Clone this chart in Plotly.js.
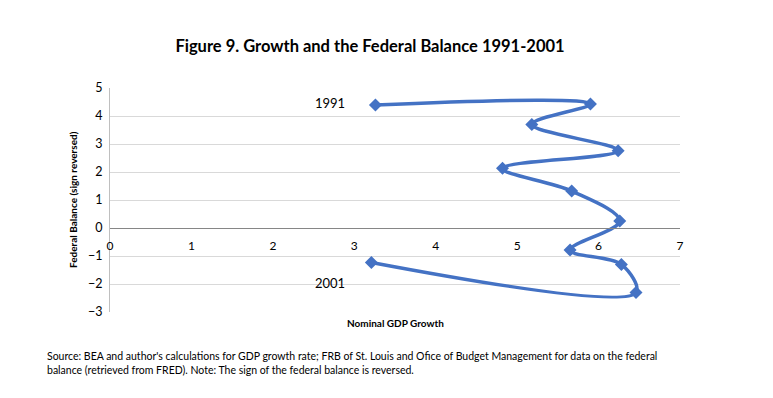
<!DOCTYPE html>
<html><head><meta charset="utf-8">
<script src="https://cdn.plot.ly/plotly-3.0.1.min.js"></script>
<style>html,body{margin:0;padding:0;background:#fff}#c{width:773px;height:398px}</style>
</head><body><div id="c"></div>
<script>
const years = ["1991","1992","1993","1994","1995","1996","1997","1998","1999","2000","2001"];
const gdpGrowth = [3.26, 5.90, 5.18, 6.24, 4.82, 5.67, 6.26, 5.65, 6.28, 6.46, 3.21];
const fedBalance = [4.39, 4.43, 3.70, 2.76, 2.13, 1.32, 0.25, -0.79, -1.30, -2.30, -1.23];
const xTicks = [0,1,2,3,4,5,6,7];
const yTicks = [-3,-2,-1,0,1,2,3,4,5];
const F = "Lato, 'Open Sans', sans-serif";
const trace = {
  x: gdpGrowth, y: fedBalance, text: years, mode: 'lines+markers', type: 'scatter',
  line: {color: '#4472C4', width: 3.5, shape: 'spline', smoothing: 1},
  marker: {symbol: 'diamond', size: 10, color: '#4472C4'},
  hoverinfo: 'x+y+text'
};
const layout = {
  width: 773, height: 398, paper_bgcolor: '#fff', plot_bgcolor: '#fff',
  margin: {l: 110, r: 93, t: 88, b: 86},
  showlegend: false,
  font: {family: F, color: '#000'},
  title: {text: '<b>Figure 9. Growth and the Federal Balance 1991-2001</b>', x: 370/773, xanchor: 'center', y: 0.885, yanchor: 'middle', font: {size: 16.5, family: F, color: '#000'}},
  xaxis: {range: [0, 7], tickvals: xTicks, showgrid: false, zeroline: false,
    anchor: 'free', position: 0.375, showline: true, linecolor: '#868686', linewidth: 1,
    ticks: '', tickfont: {size: 12, family: F}, ticklabelstandoff: 7},
  yaxis: {range: [-3, 5], tickvals: yTicks, showgrid: true, gridcolor: '#d9d9d9', gridwidth: 1,
    zeroline: true, zerolinecolor: '#868686', zerolinewidth: 1,
    showline: true, linecolor: '#bfbfbf', linewidth: 1, ticks: '', tickfont: {size: 12.5, family: F}, ticklabelstandoff: 4},
  annotations: [
    {text: '1991', x: 2.7, y: 4.45, xref: 'x', yref: 'y', showarrow: false, font: {size: 13, family: F}},
    {text: '2001', x: 2.7, y: -1.95, xref: 'x', yref: 'y', showarrow: false, font: {size: 13, family: F}},
    {text: '<b>Federal Balance (sign reversed)</b>', textangle: -90, x: 0, y: 0, xref: 'paper', yref: 'paper', xanchor: 'center', showarrow: false, font: {size: 10, family: F}},
    {text: '<b>Nominal GDP Growth</b>', x: 0.5, xref: 'paper', y: -0.05, yref: 'paper', yanchor: 'middle', showarrow: false, font: {size: 10, family: F}},
    {text: "Source: BEA and author's calculations for GDP growth rate; FRB of St. Louis and Ofice of Budget Management for data on the federal<br>balance (retrieved from FRED). Note: The sign of the federal balance is reversed.", align: 'left', xref: 'paper', yref: 'paper', x: -0.085, xanchor: 'left', y: -0.16, yanchor: 'top', showarrow: false, font: {size: 10.5, family: F}}
  ]
};
layout.annotations[2].x = (73 - 110) / 570; layout.annotations[2].y = (312 - 200) / 224;
layout.annotations[4].x = (45 - 110) / 570;
Plotly.newPlot('c', [trace], layout, {displayModeBar: false, staticPlot: true});
</script></body></html>
